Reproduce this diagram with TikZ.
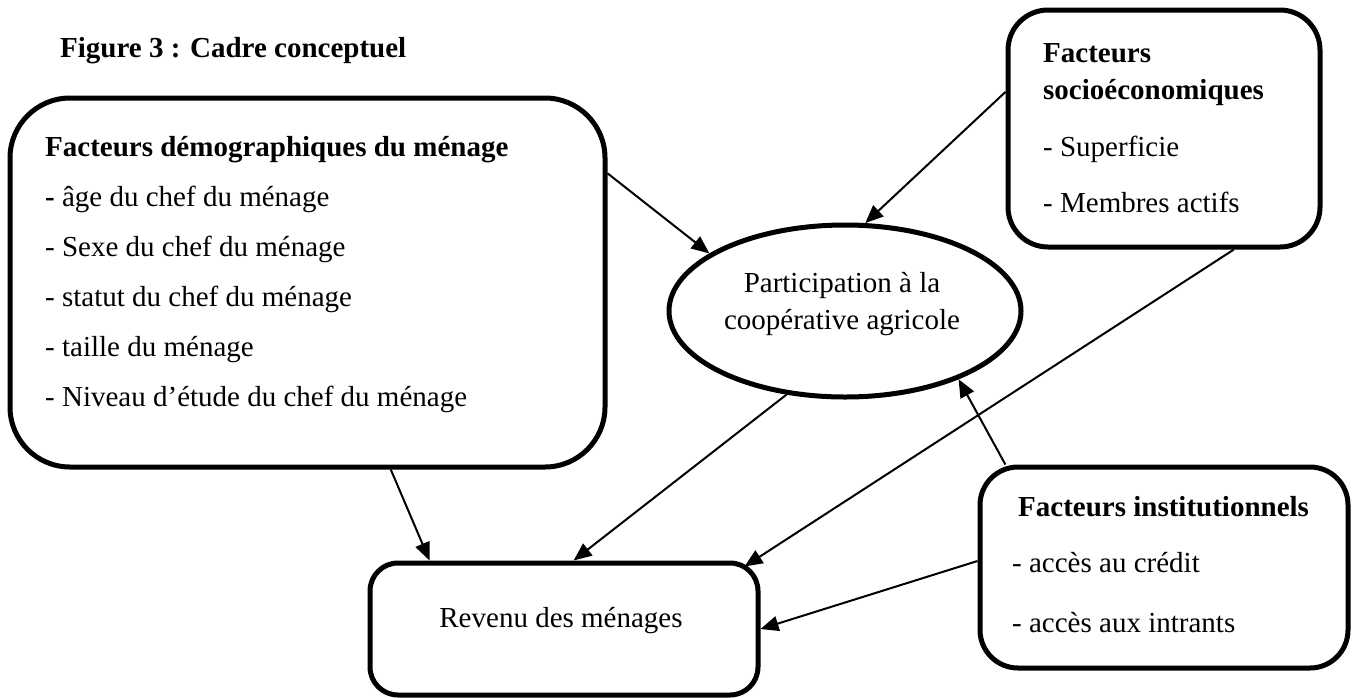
\documentclass[tikz,border=0pt]{standalone}
\usepackage{fontspec}
\setmainfont{Liberation Serif}
\usetikzlibrary{shapes.geometric,arrows.meta}

\begin{document}
\begin{tikzpicture}[x=1pt,y=-1pt]
\tikzstyle{every node}=[font=\fontsize{29}{35}\selectfont]
\tikzstyle{boite}=[draw,line width=5pt,inner sep=0pt]
\tikzstyle{texte}=[anchor=base west,inner sep=0pt]
\tikzstyle{fleche}=[line width=2pt,-{Triangle[length=18pt,width=15pt]}]
\useasboundingbox (0,0) rectangle (1359,697);

\node[texte] (titre) at (60,57) {\textbf{Figure 3 : Cadre conceptuel}};

% les boites
\node[boite,rounded corners=60pt,minimum width=595pt,minimum height=369pt] (demo) at (307.5,282.5) {};
\node[boite,rounded corners=40pt,minimum width=312pt,minimum height=237pt] (socio) at (1164,128.5) {};
\node[boite,rounded corners=38pt,minimum width=368pt,minimum height=201pt] (inst) at (1164,567.5) {};
\node[boite,rounded corners=28pt,minimum width=388pt,minimum height=132pt] (revenu) at (564,629) {};
\node[boite,ellipse,minimum width=352pt,minimum height=172pt] (part) at (845,311) {};

% textes
\node[texte] (d0) at (45,156) {\textbf{Facteurs démographiques du ménage}};
\node[texte] (d1) at (45,206) {\textbf{-} âge du chef du ménage};
\node[texte] (d2) at (45,256) {- Sexe du chef du ménage};
\node[texte] (d3) at (45,306) {- statut du chef du ménage};
\node[texte] (d4) at (45,356) {- taille du ménage};
\node[texte] (d5) at (45,406) {- Niveau d’étude du chef du ménage};

\node[texte] (s0) at (1043,62) {\textbf{Facteurs}};
\node[texte] (s1) at (1043,99) {\textbf{socioéconomiques}};
\node[texte] (s2) at (1043,156) {- Superficie};
\node[texte] (s3) at (1043,212) {- Membres actifs};

\node[texte] (i0) at (1018,516) {\textbf{Facteurs institutionnels}};
\node[texte] (i1) at (1012,572) {- accès au crédit};
\node[texte] (i2) at (1012,632) {- accès aux intrants};

\node[align=center,inner sep=0pt,font=\fontsize{29}{37}\selectfont] (partT) at (842,304) {Participation à la\\coopérative agricole};
\node[inner sep=0pt] (revenuT) at (561,621) {Revenu des ménages};

% fleches
\draw[fleche] (demo.20) -- (part.157);
\draw[fleche] (socio.167) -- (part.77);
\draw[fleche] (demo.-66) -- (revenu.153.5);
\draw[fleche] (part.-125) -- (revenu.82);
\draw[fleche] (socio.-60) -- ([shift={(-16,6)}]revenu.north east);
\draw[fleche] (inst.147) -- (part.-31);
\draw[fleche] (inst.178) -- (revenu.east);
\end{tikzpicture}
\end{document}
